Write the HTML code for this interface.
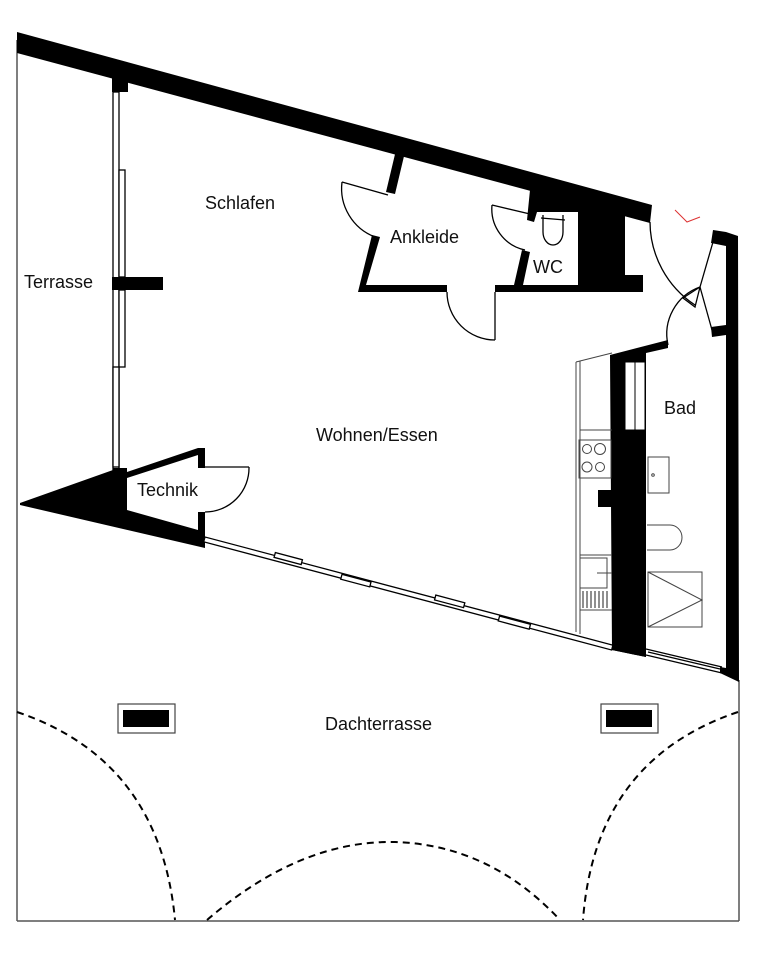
<!DOCTYPE html>
<html><head><meta charset="utf-8"><style>
html,body{margin:0;padding:0;background:#fff;}
svg{display:block;}
text{font-family:"Liberation Sans",sans-serif;font-size:18px;fill:#111;}
</style></head><body>
<svg width="779" height="968" viewBox="0 0 779 968" xmlns="http://www.w3.org/2000/svg">
<rect width="779" height="968" fill="#fff"/>
<g stroke="#555" stroke-width="1.5" fill="none">
<line x1="17" y1="40" x2="17" y2="921"/>
<line x1="17" y1="921" x2="739" y2="921"/>
<line x1="739" y1="680" x2="739" y2="921"/>
</g>
<polygon points="17,32 652,205 650,223 17,53" fill="#000"/>
<rect x="112" y="78" width="16" height="14" fill="#000"/>
<g stroke="#000" stroke-width="1.3" fill="#fff">
<rect x="113" y="92" width="6" height="380"/>
<rect x="119" y="170" width="6" height="107"/>
<rect x="119" y="290" width="6" height="77"/>
<rect x="113" y="367" width="6" height="100"/>
</g>
<rect x="112" y="277" width="51" height="13" fill="#000"/>
<polygon points="20,503 113,470 113,468 127,468 127,472 198,448 205,448 205,468 198,468 198,455 127,478 127,510 198,530 198,512 205,512 205,548 20,505" fill="#000"/>
<g stroke="#000" stroke-width="1.3" fill="none">
<line x1="205" y1="467" x2="249" y2="467"/>
<path d="M249,467 A44,44 0 0 1 205,512"/>
</g>
<g transform="translate(205,537) rotate(14.85)" stroke="#000" stroke-width="1.3" fill="#fff">
<rect x="0" y="0" width="422" height="5"/>
<rect x="72" y="-3" width="28" height="5"/>
<rect x="142" y="1" width="30" height="5"/>
<rect x="238" y="-3" width="30" height="5"/>
<rect x="305" y="1" width="32" height="5"/>
</g>
<polygon points="612,638 646,648 646,657 612,650" fill="#000"/>
<g stroke="#000" stroke-width="1.2" fill="none">
<line x1="646" y1="649" x2="722" y2="667"/>
<line x1="646" y1="655" x2="722" y2="673"/>
<line x1="648" y1="652" x2="720" y2="669"/>
</g>
<polygon points="720,667 726,668 726,232 738,236 739,682 720,673" fill="#000"/>
<polygon points="713,230 726,232 726,246 711,243" fill="#000"/>
<polygon points="711,327 726,325 726,335 712,337" fill="#000"/>
<g fill="#000">
<polygon points="396,150 405,152 395,194 386,192"/>
<polygon points="372,235 380,237 366,285 447,285 447,292 358,292"/>
<polygon points="495,285 514,285 522,250 530,252 523,285 643,285 643,292 495,292"/>
<polygon points="530,190 580,203 578,212 537,212 534,222 527,220"/>
<polygon points="578,195 625,205 625,275 643,275 643,292 578,292"/>
</g>
<g stroke="#000" stroke-width="1.3" fill="none">
<line x1="342" y1="182" x2="388" y2="195"/>
<path d="M342,182 A52,52 0 0 0 375,237"/>
<line x1="495" y1="292" x2="495" y2="340"/>
<path d="M447,292 A48,48 0 0 0 495,340"/>
<line x1="492" y1="205" x2="530" y2="214"/>
<path d="M492,205 A42,42 0 0 0 525,250"/>
<path d="M543,215 L543,232 A10,13 0 0 0 563,232 L563,215" />
<line x1="541" y1="218" x2="565" y2="220"/>
</g>
<text x="390" y="243">Ankleide</text>
<text x="533" y="273">WC</text>
<g stroke="#000" stroke-width="1.3" fill="none">
<path d="M650,222 A100,100 0 0 0 695,305"/>
<line x1="713" y1="242" x2="700" y2="287"/>
<polyline points="700,287 695,307 683,298 700,287"/>
<path d="M668,345 A50,50 0 0 1 700,287"/>
<line x1="700" y1="287" x2="712" y2="330"/>
</g>
<polyline points="675,210 687,222 700,217" stroke="#d33" stroke-width="1" fill="none"/>
<polygon points="610,355 668,340 668,348 646,353 646,657 612,650" fill="#000"/>
<polygon points="598,490 612,490 612,507 598,507" fill="#000"/>
<g stroke="#000" stroke-width="1" fill="#fff">
<rect x="625" y="362" width="10" height="68"/>
<rect x="635" y="362" width="10" height="68"/>
</g>
<g stroke="#444" stroke-width="1" fill="none">
<line x1="576" y1="362" x2="576" y2="632"/>
<line x1="580" y1="361" x2="580" y2="634"/>
<line x1="576" y1="362" x2="612" y2="353"/>
<rect x="579" y="440" width="32" height="38"/>
<circle cx="587" cy="449" r="4.5"/><circle cx="600" cy="449" r="5.5"/>
<circle cx="587" cy="467" r="5"/><circle cx="600" cy="467" r="4.5"/>
<rect x="580" y="558" width="27" height="30"/>
<line x1="597" y1="573" x2="612" y2="573"/>
<line x1="580" y1="430" x2="612" y2="430"/>
<line x1="580" y1="555" x2="612" y2="555"/>
<line x1="580" y1="610" x2="612" y2="610"/>
<g stroke-width="1.2"><line x1="583" y1="591" x2="583" y2="608"/><line x1="587" y1="591" x2="587" y2="608"/><line x1="591" y1="591" x2="591" y2="608"/><line x1="595" y1="591" x2="595" y2="608"/><line x1="599" y1="591" x2="599" y2="608"/><line x1="603" y1="591" x2="603" y2="608"/><line x1="607" y1="591" x2="607" y2="608"/></g>
</g>
<g stroke="#444" stroke-width="1" fill="none">
<rect x="648" y="457" width="21" height="36"/>
<circle cx="653" cy="475" r="1.3"/>
<path d="M647,525 L670,525 A12,12.5 0 0 1 670,550 L647,550"/>
<rect x="648" y="572" width="54" height="55"/>
<polyline points="648,572 702,600 648,627"/>
</g>
<rect x="118" y="704" width="57" height="29" fill="#fff" stroke="#444" stroke-width="1.2"/>
<rect x="123" y="710" width="46" height="17" fill="#000"/>
<rect x="601" y="704" width="57" height="29" fill="#fff" stroke="#444" stroke-width="1.2"/>
<rect x="606" y="710" width="46" height="17" fill="#000"/>
<g stroke="#000" stroke-width="2" fill="none" stroke-dasharray="7,5">
<path d="M17,712 Q160,760 175,920"/>
<path d="M738,712 Q595,760 583,920"/>
<path d="M207,920 Q300,840 395,842 Q490,845 560,920"/>
</g>
<text x="205" y="209">Schlafen</text>
<text x="24" y="288">Terrasse</text>
<text x="316" y="441">Wohnen/Essen</text>
<text x="137" y="496">Technik</text>
<text x="664" y="414">Bad</text>
<text x="325" y="730">Dachterrasse</text>
</svg>
</body></html>
